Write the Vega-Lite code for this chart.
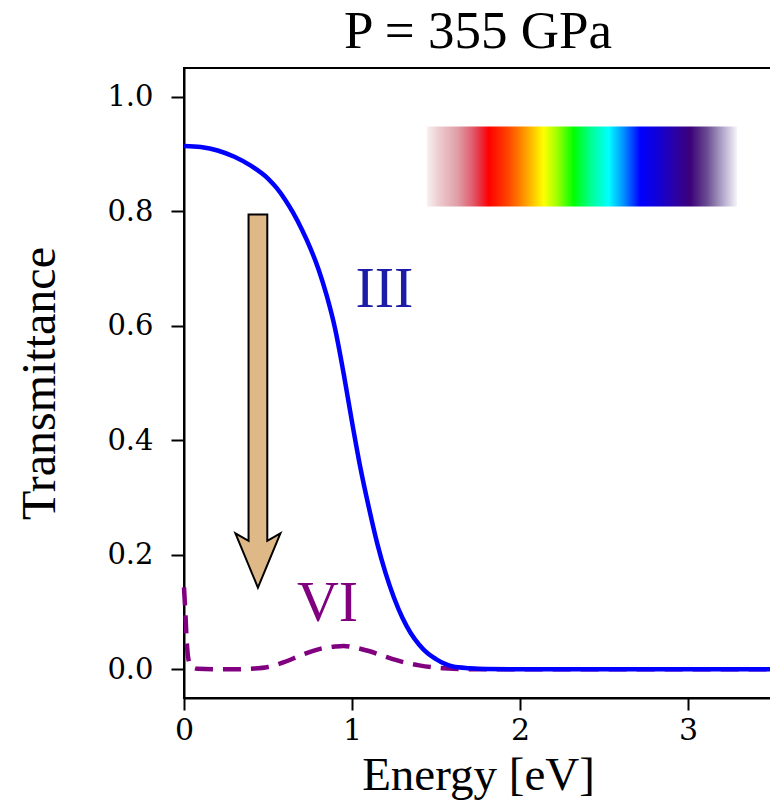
{
  "$schema": "https://vega.github.io/schema/vega-lite/v6.json",
  "width": 588,
  "height": 630,
  "autosize": {"type": "none"},
  "padding": {"left": 184, "top": 68, "right": 0, "bottom": 104},
  "background": "white",
  "title": {"text": "P = 355 GPa", "font": "Liberation Serif", "fontSize": 53, "fontWeight": "normal", "color": "black", "anchor": "middle", "frame": "group", "offset": 9},
  "config": {
    "view": {"stroke": "black", "strokeWidth": 2},
    "axis": {"grid": false, "domainColor": "black", "domainWidth": 2, "tickColor": "black", "tickWidth": 2, "labelColor": "black", "titleColor": "black", "labelFont": "DejaVu Serif", "titleFont": "Liberation Serif", "titleFontWeight": "normal", "labelFlush": false, "labelOverlap": false}
  },
  "datasets": {
    "blue": [
      {"E": 0, "T": 0.914}, {"E": 0.1, "T": 0.912}, {"E": 0.2, "T": 0.906}, {"E": 0.3, "T": 0.895},
      {"E": 0.4, "T": 0.879}, {"E": 0.5, "T": 0.857}, {"E": 0.55, "T": 0.841}, {"E": 0.6, "T": 0.821},
      {"E": 0.65, "T": 0.797}, {"E": 0.7, "T": 0.769}, {"E": 0.75, "T": 0.737}, {"E": 0.8, "T": 0.699},
      {"E": 0.85, "T": 0.652}, {"E": 0.9, "T": 0.594}, {"E": 0.95, "T": 0.517}, {"E": 1.0, "T": 0.432},
      {"E": 1.05, "T": 0.352}, {"E": 1.1, "T": 0.283}, {"E": 1.15, "T": 0.22}, {"E": 1.2, "T": 0.168},
      {"E": 1.25, "T": 0.125}, {"E": 1.3, "T": 0.09}, {"E": 1.35, "T": 0.063}, {"E": 1.4, "T": 0.043},
      {"E": 1.45, "T": 0.028}, {"E": 1.5, "T": 0.018}, {"E": 1.55, "T": 0.01}, {"E": 1.6, "T": 0.005},
      {"E": 1.7, "T": 0.002}, {"E": 1.8, "T": 0.0005}, {"E": 2.0, "T": 0}, {"E": 2.5, "T": 0},
      {"E": 3.0, "T": 0}, {"E": 3.5, "T": 0}
    ],
    "purple": [
      {"E": 0, "T": 0.143}, {"E": 0.008, "T": 0.1}, {"E": 0.016, "T": 0.05}, {"E": 0.025, "T": 0.02},
      {"E": 0.04, "T": 0.006}, {"E": 0.08, "T": 0.001}, {"E": 0.2, "T": 0}, {"E": 0.3, "T": 0},
      {"E": 0.4, "T": 0.001}, {"E": 0.5, "T": 0.004}, {"E": 0.6, "T": 0.013}, {"E": 0.7, "T": 0.025},
      {"E": 0.8, "T": 0.035}, {"E": 0.9, "T": 0.04}, {"E": 0.95, "T": 0.041}, {"E": 1.0, "T": 0.039},
      {"E": 1.1, "T": 0.032}, {"E": 1.2, "T": 0.022}, {"E": 1.3, "T": 0.013}, {"E": 1.4, "T": 0.007},
      {"E": 1.5, "T": 0.003}, {"E": 1.6, "T": 0.001}, {"E": 1.7, "T": 0}, {"E": 2.5, "T": 0}, {"E": 3.5, "T": 0}
    ],
    "spectrum": [{"E": 1.446, "E2": 3.292, "T": 0.948, "T2": 0.808}],
    "arrow": [{"E": 0.44, "T": 0.4668}],
    "labels": [
      {"E": 1.193, "T": 0.632, "label": "III", "c": "III"},
      {"E": 0.854, "T": 0.084, "label": "VI", "c": "VI"}
    ]
  },
  "encoding": {
    "x": {"field": "E", "type": "quantitative", "scale": {"domain": [0, 3.5], "nice": false, "zero": false},
      "axis": {"title": "Energy [eV]", "values": [0, 1, 2, 3], "format": "d", "labelFontSize": 30, "titleFontSize": 47, "tickSize": 12, "labelPadding": 5, "titlePadding": 7}},
    "y": {"field": "T", "type": "quantitative", "scale": {"domain": [-0.05, 1.05], "nice": false, "zero": false},
      "axis": {"title": "Transmittance", "values": [0, 0.2, 0.4, 0.6, 0.8, 1.0], "format": ".1f", "labelFontSize": 29, "titleFontSize": 48, "tickSize": 13, "labelPadding": 18, "titlePadding": 42}}
  },
  "layer": [
    {
      "data": {"name": "spectrum"},
      "mark": {"type": "rect", "fill": {"gradient": "linear", "x1": 0, "y1": 0, "x2": 1, "y2": 0, "stops": [
        {"offset": 0, "color": "#f8f0f1"}, {"offset": 0.043, "color": "#ecc8cc"}, {"offset": 0.097, "color": "#e0a0a8"},
        {"offset": 0.145, "color": "#e06070"}, {"offset": 0.172, "color": "#e83040"}, {"offset": 0.199, "color": "#ff0000"},
        {"offset": 0.258, "color": "#ff4000"}, {"offset": 0.301, "color": "#ff8000"}, {"offset": 0.339, "color": "#ffc000"},
        {"offset": 0.376, "color": "#ffff00"}, {"offset": 0.419, "color": "#a0ff00"}, {"offset": 0.473, "color": "#00ff00"},
        {"offset": 0.527, "color": "#00ff90"}, {"offset": 0.586, "color": "#00ffff"}, {"offset": 0.634, "color": "#0090ff"},
        {"offset": 0.688, "color": "#0000ff"}, {"offset": 0.742, "color": "#1000d8"}, {"offset": 0.796, "color": "#2a00a8"},
        {"offset": 0.849, "color": "#3c0078"}, {"offset": 0.903, "color": "#6a4c90"}, {"offset": 0.952, "color": "#b0a4c8"},
        {"offset": 1, "color": "#f6f4f9"}
      ]}},
      "encoding": {"x2": {"field": "E2"}, "y2": {"field": "T2"}}
    },
    {
      "data": {"name": "arrow"},
      "mark": {"type": "point", "shape": "M -0.05 -1 L 0.05 -1 L 0.05 0.74 L 0.12 0.70 L 0 0.99 L -0.12 0.70 L -0.05 0.74 Z", "size": 140625, "filled": true, "fill": "#DEB887", "stroke": "black", "strokeWidth": 2, "opacity": 1}
    },
    {
      "data": {"name": "purple"},
      "mark": {"type": "line", "color": "#800080", "strokeWidth": 4.5, "strokeDash": [18, 10], "interpolate": "monotone"}
    },
    {
      "data": {"name": "blue"},
      "mark": {"type": "line", "color": "#0000ff", "strokeWidth": 4.5, "interpolate": "monotone"}
    },
    {
      "data": {"name": "labels"},
      "mark": {"type": "text", "font": "Liberation Serif", "fontSize": 58, "align": "center", "baseline": "alphabetic"},
      "encoding": {
        "text": {"field": "label"},
        "color": {"field": "c", "type": "nominal", "scale": {"domain": ["III", "VI"], "range": ["#1c1ca8", "#800080"]}, "legend": null}
      }
    }
  ]
}
